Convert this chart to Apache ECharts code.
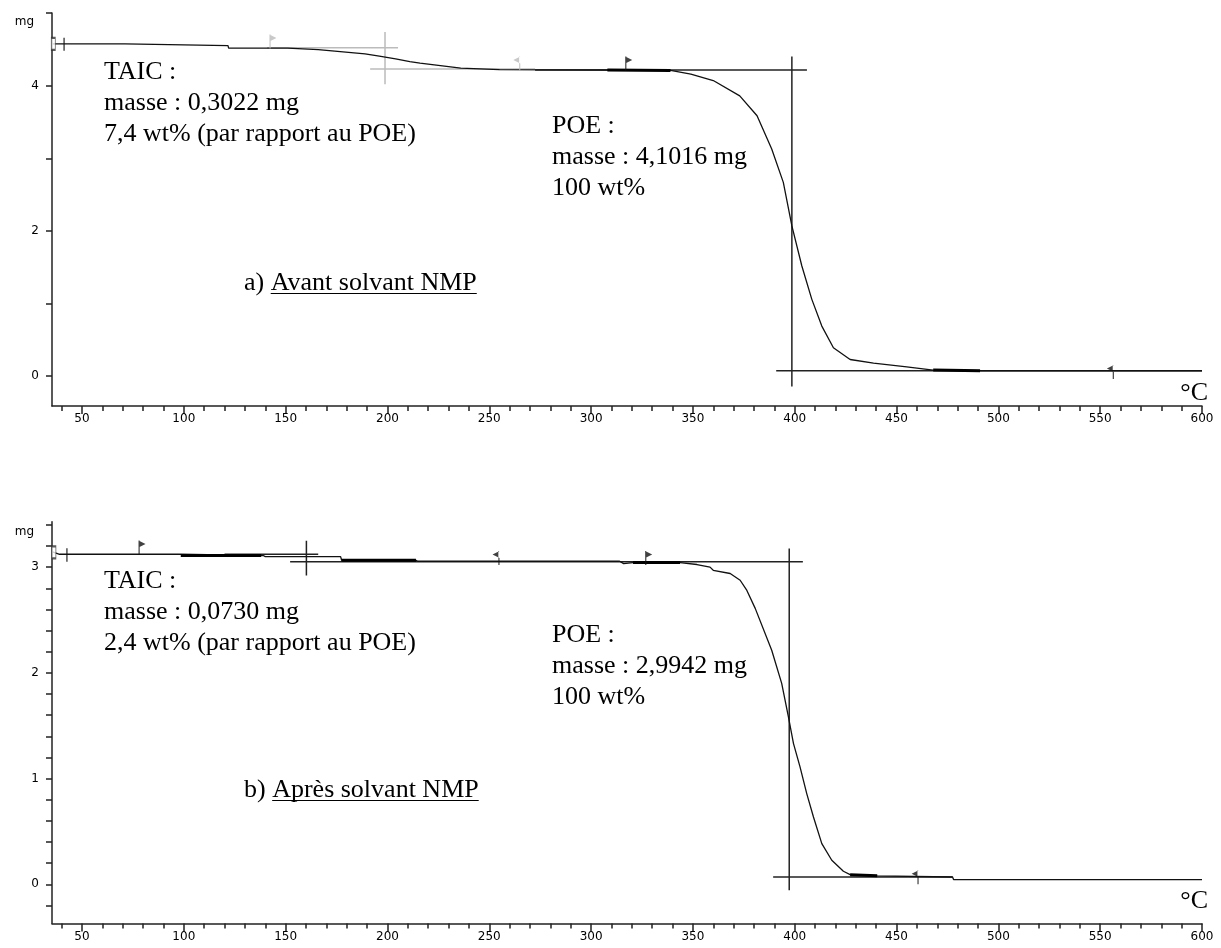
<!DOCTYPE html>
<html><head><meta charset="utf-8">
<script src="https://cdn.jsdelivr.net/npm/echarts@6/dist/echarts.min.js"></script>
<style>html,body{margin:0;padding:0;background:#fff}#c{width:1221px;height:948px}</style>
</head><body><div id="c"></div>
<script>
// ---------- DATA ----------
const xMajorTicks = [50,100,150,200,250,300,350,400,450,500,550,600];
const xMinorTicks = [40,50,60,70,80,90,100,110,120,130,140,150,160,170,180,190,200,210,220,230,240,250,260,270,280,290,300,310,320,330,340,350,360,370,380,390,400,410,420,430,440,450,460,470,480,490,500,510,520,530,540,550,560,570,580,590,600];
const yTicksA = [0,1,2,3,4,5];
const yLabelsA = [0,2,4];
const yTicksB = [-0.2,0,0.2,0.4,0.6,0.8,1,1.2,1.4,1.6,1.8,2,2.2,2.4,2.6,2.8,3,3.2,3.4];
const yLabelsB = [0,1,2,3];

// a) Avant solvant NMP
const tempA = [35.5,71,71.5,121.7,122,151,151.5,166,166.5,189,196,204,211,216,226,236,255,308,339,349,360,373,381.5,388.7,394.4,398.6,403.5,408.4,413.3,419,427.2,438.7,455,468,491,600];
const massA = [4.575,4.575,4.55,4.55,4.516,4.516,4.497,4.497,4.474,4.437,4.405,4.368,4.33,4.31,4.276,4.24,4.22,4.215,4.21,4.16,4.07,3.86,3.586,3.127,2.668,2.069,1.517,1.058,0.69,0.392,0.23,0.18,0.13,0.085,0.075,0.075];
const thickA = [[[308,4.215],[339,4.21]], [[468,0.085],[491,0.075]]];
const crossA_v = [[198.8,4.74],[198.8,4.02]];
const crossA_h1 = [[140.9,4.52],[205.2,4.52]];
const crossA_h2 = [[191.5,4.23],[272.5,4.23]];
const tangentA = [[272.5,4.215],[406,4.215]];
const vlineA = [[398.6,4.40],[398.6,-0.14]];
const baseA = [[390.9,0.075],[600,0.075]];
const tickA = [[41.2,4.66],[41.2,4.48]];
const startA = [[35.9,4.575]];
const flagsRightA = [[317,4.21]];
const flagsLeftA = [[556.5,-0.04]];
const flagsRightGreyA = [[142.3,4.51]];
const flagsLeftGreyA = [[265,4.21]];

// b) Après solvant NMP
const tempB = [35.5,39,98,98.5,139,140,177,177.5,214,215,314,316,320.6,343.7,352,358.4,360,368.3,373.2,376.5,380.6,388.7,393.6,396.9,399.4,402.6,405.9,409.2,413.3,418.2,423.9,427.2,440.5,477.5,478,600];
const massB = [3.144,3.122,3.122,3.11,3.11,3.10,3.10,3.065,3.065,3.056,3.056,3.033,3.043,3.043,3.025,3.0,2.97,2.94,2.876,2.78,2.61,2.214,1.9,1.583,1.331,1.11,0.858,0.637,0.385,0.227,0.123,0.092,0.08,0.069,0.045,0.045];
const thickB = [[[98.5,3.11],[138,3.11]], [[177.5,3.065],[214,3.065]], [[320.6,3.043],[343.7,3.043]], [[427.2,0.09],[440.5,0.08]]];
const crossB_v = [[160.2,3.25],[160.2,2.92]];
const crossB_h1 = [[120,3.122],[166,3.122]];
const tangentB = [[152.2,3.05],[404,3.05]];
const vlineB = [[397.3,3.176],[397.3,-0.057]];
const baseB = [[389.4,0.069],[477.5,0.069]];
const tickB = [[42.6,3.18],[42.6,3.05]];
const startB = [[36.2,3.14]];
const flagsRightB = [[78,3.12],[326.8,3.02]];
const flagsLeftB = [[254.8,3.02],[460.6,0.0]];

const textA1 = 'TAIC :\nmasse : 0,3022 mg\n7,4 wt% (par rapport au POE)';
const textA2 = 'POE :\nmasse : 4,1016 mg\n100 wt%';
const textB1 = 'TAIC :\nmasse : 0,0730 mg\n2,4 wt% (par rapport au POE)';
const textB2 = 'POE :\nmasse : 2,9942 mg\n100 wt%';
const labelA = ['a) ', 'Avant solvant NMP'];
const labelB = ['b) ', 'Après solvant NMP'];
const unitX = '°C';
const unitY = 'mg';

// ---------- CHART ----------
const chart = echarts.init(document.getElementById('c'), null, {renderer:'canvas'});
const ANN_FONT = '26px "Liberation Serif"';
const tickFont = {color:'#000', fontSize:12, fontFamily:'DejaVu Sans'};
const zip = (a,b) => a.map((v,i)=>[v,b[i]]);

function xAxes(gi){
  return [
    {type:'value', gridIndex:gi, min:35.27, max:600, position:'bottom',
     axisLine:{show:true, onZero:false, lineStyle:{color:'#222', width:1.5}},
     axisTick:{show:true, length:8, customValues:xMajorTicks, lineStyle:{color:'#222', width:1.5}},
     axisLabel:{show:true, customValues:xMajorTicks, margin:7, ...tickFont},
     splitLine:{show:false}},
    {type:'value', gridIndex:gi, min:35.27, max:600, position:'bottom',
     axisLine:{show:false, onZero:false},
     axisTick:{show:true, length:5, customValues:xMinorTicks, lineStyle:{color:'#222', width:1.5}},
     axisLabel:{show:false}, splitLine:{show:false}}
  ];
}
function yAxis(gi, mn, mx, ticks, labels, gap){
  return {type:'value', gridIndex:gi, min:mn, max:mx, position:'left',
    name:unitY, nameLocation:'end', nameGap:gap,
    nameTextStyle:{align:'right', verticalAlign:'middle', padding:[0,18,0,0], color:'#000', fontSize:12, fontFamily:'DejaVu Sans'},
    axisLine:{show:true, onZero:false, lineStyle:{color:'#222', width:1.5}},
    axisTick:{show:true, length:6, customValues:ticks, lineStyle:{color:'#222', width:1.5}},
    axisLabel:{show:true, customValues:labels, margin:13, ...tickFont},
    splitLine:{show:false}};
}
function seg(data, xi, yi, color, width, z){
  return {type:'line', xAxisIndex:xi, yAxisIndex:yi, data:data, symbol:'none', silent:true, animation:false,
    lineStyle:{color:color, width:width}, z:z||3};
}
const flagR = 'path://M0,0 L7,3.5 L0,7 Z M0,0 L1.2,0 L1.2,14 L0,14 Z';
const flagL = 'path://M7,0 L0,3.5 L7,7 Z M5.8,0 L7,0 L7,14 L5.8,14 Z';
function flags(data, xi, yi, path, color, right){
  return {type:'scatter', xAxisIndex:xi, yAxisIndex:yi, data:data, symbol:path, symbolSize:[7,14],
    symbolOffset:[right?3:-3,-7], itemStyle:{color:color}, silent:true, animation:false, z:5};
}
function bracket(data, xi, yi){
  return {type:'scatter', xAxisIndex:xi, yAxisIndex:yi, data:data, symbol:'rect', symbolSize:[4,12],
    itemStyle:{color:'#fff', borderColor:'#333', borderWidth:1.3}, silent:true, animation:false, z:5};
}

const series = [
  seg(zip(tempA,massA), 0, 0, '#111', 1.3, 4),
  ...thickA.map(d=>seg(d,0,0,'#000',3,5)),
  seg(crossA_v,0,0,'#bbb',1.5,3), seg(crossA_h1,0,0,'#bbb',1.5,3), seg(crossA_h2,0,0,'#bbb',1.5,3),
  seg(tangentA,0,0,'#222',1.5,3), seg(vlineA,0,0,'#222',1.5,3), seg(baseA,0,0,'#222',1.5,3),
  seg(tickA,0,0,'#333',1.3,3),
  bracket(startA,0,0),
  flags(flagsRightA,0,0,flagR,'#111',true), flags(flagsLeftA,0,0,flagL,'#111',false),
  flags(flagsRightGreyA,0,0,flagR,'#bbb',true), flags(flagsLeftGreyA,0,0,flagL,'#bbb',false),
  seg(zip(tempB,massB), 2, 1, '#111', 1.3, 4),
  ...thickB.map(d=>seg(d,2,1,'#000',3,5)),
  seg(crossB_v,2,1,'#222',1.5,3), seg(crossB_h1,2,1,'#222',1.5,3),
  seg(tangentB,2,1,'#222',1.5,3), seg(vlineB,2,1,'#222',1.5,3), seg(baseB,2,1,'#222',1.5,3),
  seg(tickB,2,1,'#333',1.3,3),
  bracket(startB,2,1),
  flags(flagsRightB,2,1,flagR,'#111',true), flags(flagsLeftB,2,1,flagL,'#111',false)
];

const mctx = document.createElement('canvas').getContext('2d');
mctx.font = ANN_FONT;
function underlined(parts, left, top){
  const w0 = mctx.measureText(parts[0]).width, w1 = mctx.measureText(parts[1]).width;
  return [
    {type:'text', left:left, top:top, style:{text:parts[0]+parts[1], font:ANN_FONT, fill:'#000', lineHeight:31}},
    {type:'line', shape:{x1:left+w0, y1:top+26, x2:left+w0+w1, y2:top+26}, style:{stroke:'#000', lineWidth:1}}
  ];
}
const graphic = [
  {type:'text', left:104, top:57, style:{text:textA1, font:ANN_FONT, fill:'#000', lineHeight:31}},
  {type:'text', left:552, top:110.5, style:{text:textA2, font:ANN_FONT, fill:'#000', lineHeight:31}},
  ...underlined(labelA, 244, 267.5),
  {type:'text', right:13, top:378, style:{text:unitX, font:ANN_FONT, fill:'#000', lineHeight:31}},
  {type:'text', left:104, top:565.5, style:{text:textB1, font:ANN_FONT, fill:'#000', lineHeight:31}},
  {type:'text', left:552, top:619.5, style:{text:textB2, font:ANN_FONT, fill:'#000', lineHeight:31}},
  ...underlined(labelB, 244, 774.5),
  {type:'text', right:13, top:886, style:{text:unitX, font:ANN_FONT, fill:'#000', lineHeight:31}}
];

chart.setOption({
  animation:false,
  backgroundColor:'#fff',
  grid:[
    {left:52, top:13, width:1150, height:393},
    {left:52, top:521.7, width:1150, height:401.7}
  ],
  xAxis:[...xAxes(0), ...xAxes(1)],
  yAxis:[yAxis(0,-0.41,5.0,yTicksA,yLabelsA,-9), yAxis(1,-0.37,3.43,yTicksB,yLabelsB,-10)],
  series:series,
  graphic:graphic
});
</script></body></html>
